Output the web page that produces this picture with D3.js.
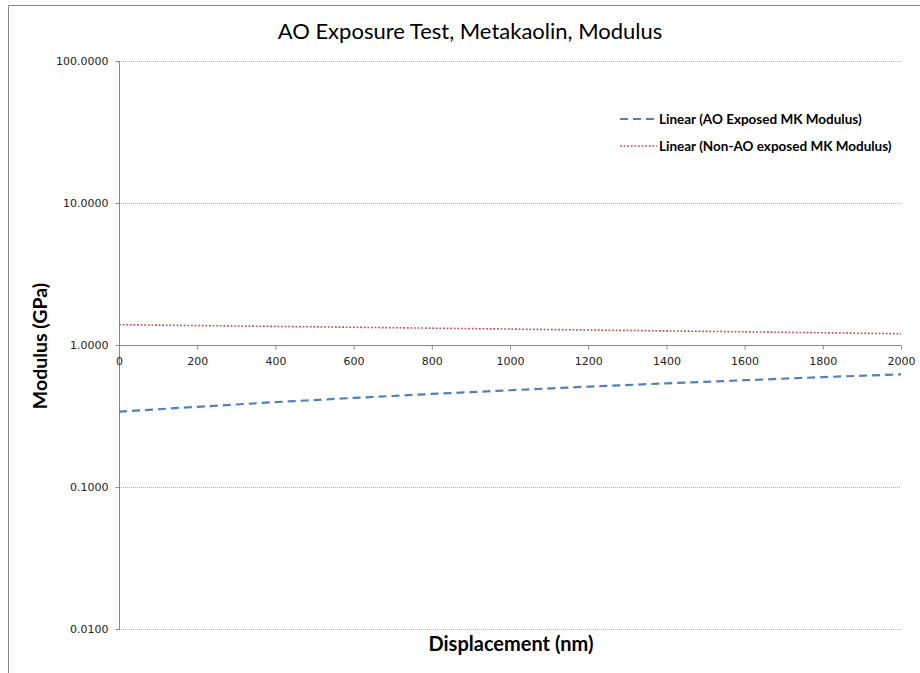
<!DOCTYPE html>
<html><head><meta charset="utf-8">
<script src="https://cdn.jsdelivr.net/npm/d3@7"></script>
<style>body{margin:0;background:#fff}svg{display:block}</style>
</head><body>
<svg id="c" width="920" height="673"></svg>
<script>
const title = "AO Exposure Test, Metakaolin, Modulus";
const xLabel = "Displacement (nm)";
const yLabel = "Modulus (GPa)";
const displacement = [0, 200, 400, 600, 800, 1000, 1200, 1400, 1600, 1800, 2000];
const aoExposed = [0.339, 0.367, 0.396, 0.424, 0.452, 0.480, 0.509, 0.537, 0.565, 0.594, 0.622];
const nonAoExposed = [1.390, 1.371, 1.352, 1.333, 1.314, 1.295, 1.276, 1.257, 1.238, 1.219, 1.200];
const seriesNames = ["Linear (AO Exposed MK Modulus)", "Linear (Non-AO exposed MK Modulus)"];
const xTicks = [0, 200, 400, 600, 800, 1000, 1200, 1400, 1600, 1800, 2000];
const yTicks = [0.01, 0.1, 1, 10, 100];

const svg = d3.select("#c");
const L = 119, R = 901, T = 61, B = 629;
const x = d3.scaleLinear().domain([0, 2000]).range([L, R]);
const y = d3.scaleLog().domain([0.01, 100]).range([B, T]);

// outer frame (top and left visible)
svg.append("path").attr("d", "M8.5,673 V5.5 H920").attr("fill", "none").attr("stroke", "#888").attr("stroke-width", 1);

// gridlines
svg.append("g").selectAll("line").data(yTicks.filter(d => d !== 1)).join("line")
  .attr("x1", L).attr("x2", R)
  .attr("y1", d => Math.round(y(d)) + 0.5).attr("y2", d => Math.round(y(d)) + 0.5)
  .attr("stroke", "#b0b0b0").attr("stroke-dasharray", "1,1");

const tickFont = "DejaVu Sans, Verdana, sans-serif";
// y axis
const yAxis = d3.axisLeft(y).tickValues(yTicks).tickFormat(d3.format(".4f")).tickSize(4).tickPadding(7);
const gy = svg.append("g").attr("transform", `translate(${L + 0.5},0)`).call(yAxis);
gy.select(".domain").attr("stroke", "#888").attr("d", `M0,${T}V${B}`);
gy.selectAll(".tick line").attr("stroke", "#888");
gy.selectAll(".tick text").attr("font-family", tickFont).attr("font-size", "11px").attr("fill", "#222");

// x axis crossing at y=1
const y1 = Math.round(y(1)) + 0.5;
const xAxis = d3.axisBottom(x).tickValues(xTicks).tickFormat(d3.format("d")).tickSize(4).tickPadding(8);
const gx = svg.append("g").attr("transform", `translate(0,${y1})`).call(xAxis);
gx.select(".domain").attr("stroke", "#888").attr("d", `M${L},0H${R}`);
gx.selectAll(".tick line").attr("stroke", "#888");
gx.selectAll(".tick text").attr("font-family", tickFont).attr("font-size", "11px").attr("fill", "#222");

// lines
const line = d3.line().x(d => x(d[0])).y(d => y(d[1]));
svg.append("path").datum(displacement.map((d, i) => [d, aoExposed[i]]))
  .attr("d", line).attr("fill", "none").attr("stroke", "#4F81BD").attr("stroke-width", 2.2)
  .attr("stroke-dasharray", "8,5");
svg.append("path").datum(displacement.map((d, i) => [d, nonAoExposed[i]]))
  .attr("d", line).attr("fill", "none").attr("stroke", "#C0504D").attr("stroke-width", 1.6)
  .attr("stroke-dasharray", "1.8,1.8");

// title and axis labels
const labFont = "Lato, 'Open Sans', sans-serif";
svg.append("text").attr("x", 470).attr("y", 39).attr("text-anchor", "middle")
  .attr("font-family", labFont).attr("font-size", "22px").attr("fill", "#000").text(title);
svg.append("text").attr("x", 511).attr("y", 651).attr("text-anchor", "middle")
  .attr("font-family", labFont).attr("font-weight", "bold").attr("font-size", "20px").attr("fill", "#000").text(xLabel);
svg.append("text").attr("transform", `translate(47,346) rotate(-90)`).attr("text-anchor", "middle")
  .attr("font-family", labFont).attr("font-weight", "bold").attr("font-size", "19.5px").attr("fill", "#000").text(yLabel);

// legend
const leg = svg.append("g");
const legItems = [
  {name: seriesNames[0], color: "#4F81BD", w: 2.2, dash: "8,5", y: 119},
  {name: seriesNames[1], color: "#C0504D", w: 1.6, dash: "1.8,1.8", y: 146}
];
legItems.forEach(it => {
  leg.append("line").attr("x1", 620).attr("x2", 657).attr("y1", it.y).attr("y2", it.y)
    .attr("stroke", it.color).attr("stroke-width", it.w).attr("stroke-dasharray", it.dash);
  leg.append("text").attr("x", 659).attr("y", it.y + 5)
    .attr("font-family", labFont).attr("font-weight", "bold").attr("font-size", "13.5px").attr("fill", "#000").text(it.name);
});
</script>
</body></html>
